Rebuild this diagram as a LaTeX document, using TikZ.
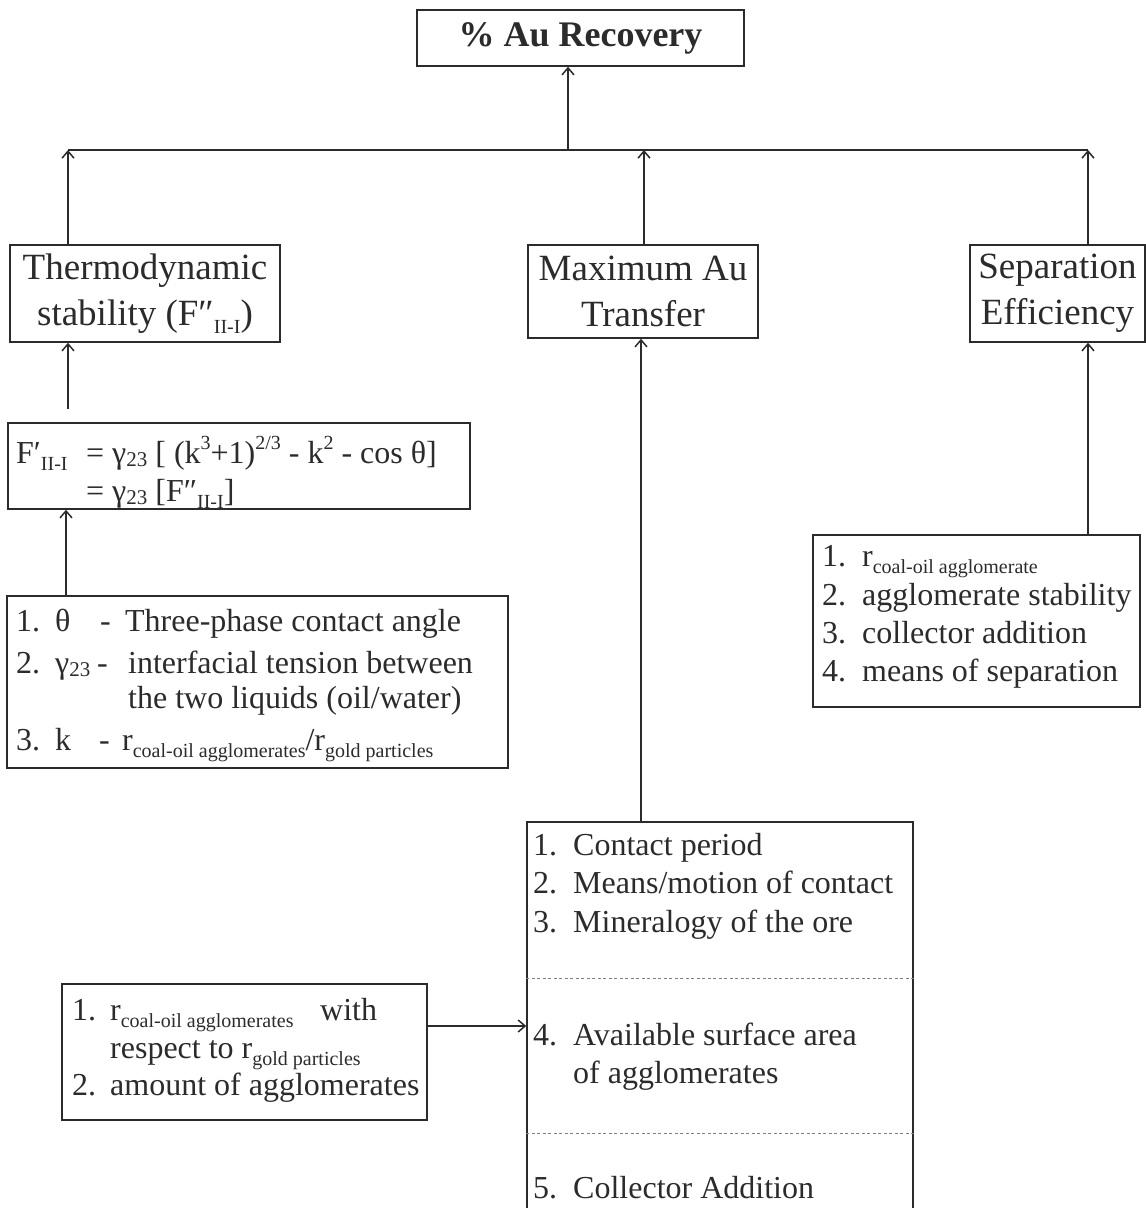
\documentclass[tikz,border=0pt]{standalone}
\usepackage{fontspec}
\setmainfont{Liberation Serif}
\usetikzlibrary{arrows.meta}
\definecolor{ink}{HTML}{2B2B2B}
% lowered small text (subscripts) and raised small text (exponents)
\newcommand{\lo}[1]{\raisebox{-0.22em}{\fontsize{20}{20}\selectfont #1}}
\newcommand{\dn}[1]{\raisebox{-0.12em}{\fontsize{21}{21}\selectfont #1}}
\newcommand{\up}[1]{\raisebox{0.42em}{\fontsize{20}{20}\selectfont #1}}
\newcommand{\nb}[2]{\makebox[#1][l]{#2}}
\begin{document}
\begin{tikzpicture}[x=1pt,y=-1pt,
  box/.style={draw=ink, line width=1.5pt, inner sep=0pt},
  head/.style={box, align=center, text=ink, font=\fontsize{37}{46}\selectfont},
  txt/.style={anchor=base west, inner sep=0pt, text=ink, font=\fontsize{32}{38}\selectfont},
  ftxt/.style={txt, font=\fontsize{32}{38}\selectfont},
  arr/.style={draw=ink, line width=1.5pt, -{Straight Barb[length=7pt,width=12pt,line width=1.5pt]}},
  link/.style={draw=ink, line width=1.5pt},
  sep/.style={draw=ink!60, line width=1pt, dash pattern=on 3pt off 2.5pt}]
\useasboundingbox (0,0) rectangle (1146,1208);
\clip (0,0) rectangle (1146,1208);

% ---- goal ----
\node[head, minimum width=327pt, minimum height=56pt, font=\fontsize{36}{44}\selectfont\bfseries] (top) at (580.5,38) {\% Au Recovery};

% ---- three criteria ----
\node[head, minimum width=270pt, minimum height=97pt] (thermo) at (145,293.5)
  {Thermodynamic\\stability (F″\lo{II-I})};
\node[head, minimum width=230pt, minimum height=93pt] (maxau) at (643,291.5)
  {Maximum Au\\Transfer};
\node[head, minimum width=175pt, minimum height=97pt] (sepeff) at (1057.5,293.5)
  {Separation\\Efficiency};

% ---- bus joining the criteria ----
\coordinate (bl) at (68,150);
\coordinate (br) at (1088,150);
\coordinate (bt) at (568,150);
\coordinate (bm) at (644,150);
\draw[link] (bl) -- (br);
\draw[arr] (bt) -- (bt |- top.south);
\draw[arr] (thermo.north -| bl) -- (bl);
\draw[arr] (maxau.north -| bm) -- (bm);
\draw[arr] (sepeff.north -| br) -- (br);

% ---- energy expression ----
\node[box, minimum width=462pt, minimum height=86pt] (fbox) at (239,466) {};
\node[ftxt] (f1a) at (16,463) {F′\lo{II-I}};
\node[ftxt] (f1b) at (86,463) {= γ\dn{23} [ (k\up{3}+1)\up{2/3} - k\up{2} - cos θ]};
\node[ftxt] (f2) at (86,501) {= γ\dn{23} [F″\lo{II-I}]};
\draw[arr] (fbox.north -| bl) ++(0,-13) -- (thermo.south -| bl);

% ---- parameters of the expression ----
\node[box, minimum width=501pt, minimum height=172pt] (list1) at (257.5,682) {};
\node[txt] (l1a) at (16,631) {\nb{39pt}{1.}\nb{45pt}{θ}\nb{25pt}{-}Three-phase contact angle};
\node[txt] (l1b) at (16,673) {\nb{39pt}{2.}\nb{42pt}{γ\dn{23}}\nb{31pt}{-}interfacial tension between};
\node[txt] (l1c) at (128,708) {the two liquids (oil/water)};
\node[txt] (l1d) at (16,750) {\nb{39pt}{3.}\nb{44pt}{k}\nb{23pt}{-}r\lo{coal-oil agglomerates}/r\lo{gold particles}};
\coordinate (lx) at (66,0);
\draw[arr] (list1.north -| lx) -- (fbox.south -| lx);

% ---- separation factors ----
\node[box, minimum width=327pt, minimum height=172pt] (seplist) at (976.5,621) {};
\node[txt] (s1) at (822,566) {\nb{40pt}{1.}r\lo{coal-oil agglomerate}};
\node[txt] (s2) at (822,605) {\nb{40pt}{2.}agglomerate stability};
\node[txt] (s3) at (822,643) {\nb{40pt}{3.}collector addition};
\node[txt] (s4) at (822,681) {\nb{40pt}{4.}means of separation};
\draw[arr] (seplist.north -| br) -- (sepeff.south -| br);

% ---- transfer factors ----
\node[box, minimum width=386pt, minimum height=420pt] (maxlist) at (720,1032) {};
\node[txt] (m1) at (533,855) {\nb{40pt}{1.}Contact period};
\node[txt] (m2) at (533,893) {\nb{40pt}{2.}Means/motion of contact};
\node[txt] (m3) at (533,932) {\nb{40pt}{3.}Mineralogy of the ore};
\node[txt] (m4) at (533,1045) {\nb{40pt}{4.}Available surface area};
\node[txt] (m5) at (573,1083) {of agglomerates};
\node[txt] (m6) at (533,1198) {\nb{40pt}{5.}Collector Addition};
\coordinate (d1) at (0,978);
\coordinate (d2) at (0,1133);
\draw[sep] (maxlist.west |- d1) -- (maxlist.east |- d1);
\draw[sep] (maxlist.west |- d2) -- (maxlist.east |- d2);
\coordinate (mx) at (641,0);
\draw[arr] (maxlist.north -| mx) -- (maxau.south -| mx);

% ---- agglomerate size and amount ----
\node[box, minimum width=365pt, minimum height=136pt] (small) at (244.5,1052) {};
\node[txt] (a1) at (72,1020) {\nb{38pt}{1.}\nb{210pt}{r\lo{coal-oil agglomerates}}with};
\node[txt] (a2) at (110,1058) {respect to r\lo{gold particles}};
\node[txt] (a3) at (72,1095) {\nb{38pt}{2.}amount of agglomerates};
\coordinate (ay) at (0,1026);
\draw[arr] (small.east |- ay) -- (maxlist.west |- ay);
\end{tikzpicture}
\end{document}
